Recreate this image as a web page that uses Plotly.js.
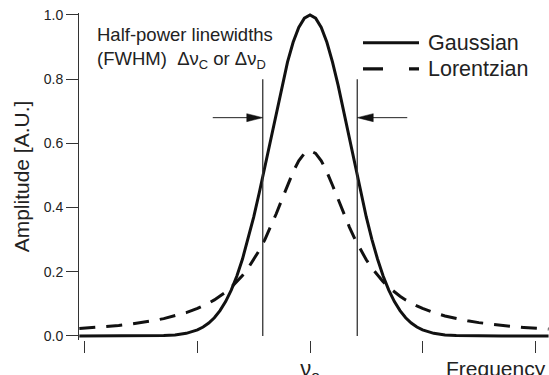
<!DOCTYPE html>
<html>
<head>
<meta charset="utf-8">
<script src="https://cdn.plot.ly/plotly-3.0.1.min.js"></script>
<style>html,body{margin:0;padding:0;background:#fff;}#chart{width:549px;height:375px;}</style>
</head>
<body>
<div id="chart"></div>
<script>
// frequency offset from line centre (in tick units)
const freq = [-2.05,-2.0,-1.9,-1.8,-1.7,-1.6,-1.5,-1.4,-1.3,-1.2,-1.1,-1.0,-0.95,-0.9,-0.85,-0.8,-0.75,-0.7,-0.65,-0.6,-0.55,-0.5,-0.45,-0.4,-0.35,-0.3,-0.25,-0.2,-0.15,-0.1,-0.05,0,
  0.05,0.1,0.15,0.2,0.25,0.3,0.35,0.4,0.45,0.5,0.55,0.6,0.65,0.7,0.75,0.8,0.85,0.9,0.95,1.0,1.1,1.2,1.3,1.4,1.5,1.6,1.7,1.8,1.9,2.0,2.12];
const gaussian = [0,0,0,0,0,0,0,0.0004,0.0012,0.0033,0.0082,0.0189,0.0278,0.0402,0.0569,0.0789,0.1073,0.1431,0.1870,0.2397,0.3011,0.3708,0.4478,0.5300,0.6150,0.6997,0.7804,0.8532,0.9146,0.9611,0.9901,1.0,
  0.9901,0.9611,0.9146,0.8532,0.7804,0.6997,0.6150,0.5300,0.4478,0.3708,0.3011,0.2397,0.1870,0.1431,0.1073,0.0789,0.0569,0.0402,0.0278,0.0189,0.0082,0.0033,0.0012,0.0004,0,0,0,0,0,0,0];
const lorentzian = [0.0230,0.0242,0.0266,0.0295,0.0329,0.0369,0.0416,0.0472,0.0541,0.0624,0.0728,0.0858,0.0936,0.1024,0.1124,0.1237,0.1368,0.1517,0.1688,0.1885,0.2113,0.2374,0.2673,0.3012,0.3392,0.3808,0.4250,0.4695,0.5112,0.5458,0.5689,0.577,
  0.5689,0.5458,0.5112,0.4695,0.4250,0.3808,0.3392,0.3012,0.2673,0.2374,0.2113,0.1885,0.1688,0.1517,0.1368,0.1237,0.1124,0.1024,0.0936,0.0858,0.0728,0.0624,0.0541,0.0472,0.0416,0.0369,0.0329,0.0295,0.0266,0.0242,0.0216];
const seriesNames = ["Gaussian", "Lorentzian"];
const xLabelVals = [0];
const xLabelText = ["ν<sub>o</sub>"];
const xMinorVals = [-2, -1, 1, 2];
const yTickVals = [0, 0.2, 0.4, 0.6, 0.8, 1.0];
const fwhmEdges = [-0.42, 0.42];
const fwhmLineTop = 0.80;
const arrowLevel = 0.68;

const FONT = "Liberation Sans, Arial, sans-serif";
const INK = "#111";

const traces = [
  {x: freq, y: gaussian, name: seriesNames[0], mode: "lines", line: {color: INK, width: 3}, hoverinfo: "skip"},
  {x: freq, y: lorentzian, name: seriesNames[1], mode: "lines", line: {color: INK, width: 3, dash: "16px,11px"}, hoverinfo: "skip"}
];

const shapes = [];
fwhmEdges.forEach(e => shapes.push({type: "line", xref: "x", yref: "y", x0: e, x1: e, y0: 0, y1: fwhmLineTop, line: {color: "#333", width: 1.3}}));
const arrowDir = [1, -1];
fwhmEdges.forEach((e, i) => {
  const d = arrowDir[i];
  shapes.push({type: "line", xref: "x", yref: "y", xsizemode: "pixel", xanchor: e, x0: -d * 50, x1: -d * 10, y0: arrowLevel, y1: arrowLevel, line: {color: "#222", width: 1}});
  shapes.push({type: "path", xref: "x", yref: "y", xsizemode: "pixel", ysizemode: "pixel", xanchor: e, yanchor: arrowLevel,
    path: `M${-d*16},-4 L0,0 L${-d*16},4 Z`, fillcolor: "#111", line: {color: "#111", width: 0.5}});
});
const legendY = [0.909, 0.829];
const legendDash = ["solid", "20px,26px"];
legendY.forEach((ly, i) => shapes.push({type: "line", xref: "paper", yref: "paper", x0: (363-79)/470, x1: (419-79)/470, y0: ly, y1: ly, line: {color: INK, width: 3.2, dash: legendDash[i]}}));

const annotations = [
  {xref: "paper", yref: "paper", x: (95-79)/470, y: 0.972, xanchor: "left", yanchor: "top", align: "left", showarrow: false,
   text: "Half-power linewidths<br>(FWHM)  Δν<sub>C</sub> or Δν<sub>D</sub>", font: {family: FONT, size: 18.5, color: "#222"}},
  {xref: "paper", yref: "paper", x: 0.998, y: -0.045, xanchor: "right", yanchor: "top", showarrow: false,
   text: "Frequency", font: {family: FONT, size: 21, color: "#222"}}
];
legendY.forEach((ly, i) => annotations.push({xref: "paper", yref: "paper", x: (426-79)/470, y: ly, xanchor: "left", yanchor: "middle", showarrow: false,
  text: seriesNames[i], font: {family: FONT, size: 21.5, color: "#222"}}));

const layout = {
  width: 549, height: 375,
  margin: {l: 79, r: 0, t: 13, b: 35, pad: 0},
  paper_bgcolor: "#fff", plot_bgcolor: "#fff",
  showlegend: false,
  font: {family: FONT, color: "#222"},
  xaxis: {range: [-2.053, 2.124], tickmode: "array", tickvals: xLabelVals, ticktext: xLabelText, ticks: "outside", ticklen: 12, tickwidth: 1, tickcolor: "#333",
    ticklabelstandoff: -3,
    minor: {tickmode: "array", tickvals: xMinorVals, ticks: "outside", ticklen: 12, tickwidth: 1, tickcolor: "#333", showgrid: false},
    showline: false, showgrid: false, zeroline: false, tickfont: {family: FONT, size: 22, color: "#222"}, fixedrange: true},
  yaxis: {range: [-0.0125, 1.006], tickvals: yTickVals, tickformat: ".1f", ticks: "outside", ticklen: 12, tickwidth: 1, tickcolor: "#333",
    showline: true, linecolor: "#333", linewidth: 1, showgrid: false, zeroline: false,
    tickfont: {family: FONT, size: 14, color: "#222"},
    title: {text: "Amplitude [A.U.]", font: {family: FONT, size: 21, color: "#222"}, standoff: 8}, fixedrange: true},
  shapes: shapes,
  annotations: annotations
};

Plotly.newPlot("chart", traces, layout, {displayModeBar: false, staticPlot: true});
</script>
</body>
</html>
